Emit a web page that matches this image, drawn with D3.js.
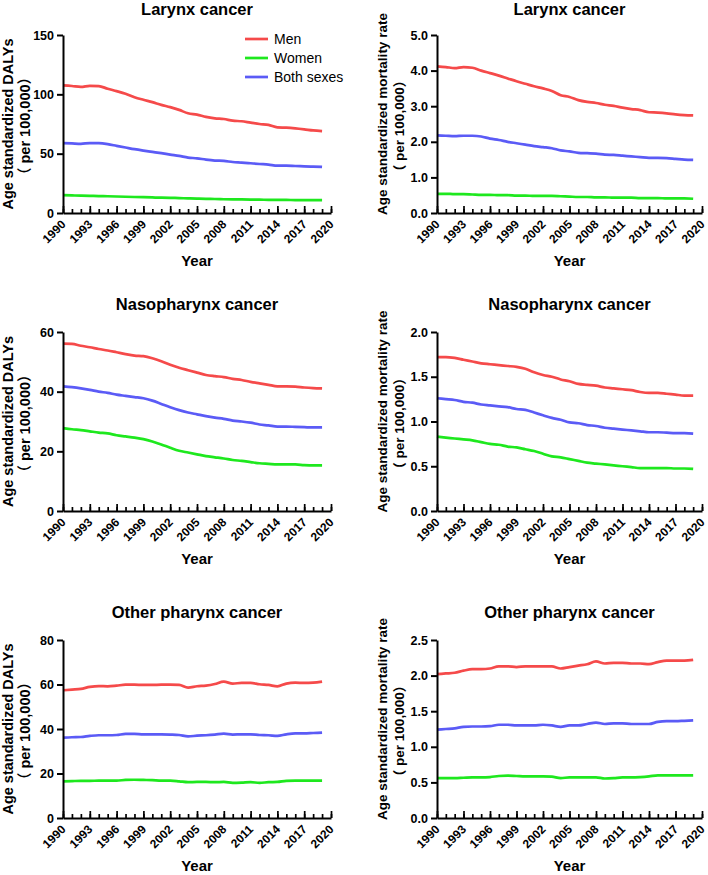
<!DOCTYPE html>
<html>
<head>
<meta charset="utf-8">
<script src="https://cdn.jsdelivr.net/npm/d3@7"></script>
<style>
  html, body { margin: 0; padding: 0; background: #fff; }
  svg { display: block; }
  text { font-family: "Liberation Sans", Arial, "Noto Sans CJK SC", sans-serif; fill: #000; }
</style>
</head>
<body>
<svg id="chart" width="708" height="875"></svg>
<script>
// ---------------- DATA ----------------
const years = [1990,1991,1992,1993,1994,1995,1996,1997,1998,1999,
               2000,2001,2002,2003,2004,2005,2006,2007,2008,2009,
               2010,2011,2012,2013,2014,2015,2016,2017,2018,2019];
const xTickLabels = ["1990","1993","1996","1999","2002","2005","2008","2011","2014","2017","2020"];
const seriesNames = ["Men", "Women", "Both sexes"];
const seriesColors = ["#f54a4a", "#1ee81e", "#5b5bf6"];

const titles = ["Larynx cancer", "Larynx cancer", "Nasopharynx cancer", "Nasopharynx cancer", "Other pharynx cancer", "Other pharynx cancer"];
const yLabels = ["Age standardized DALYs", "Age standardized mortality rate"];
const yLabel2 = "（ per 100,000）";

const yTicksDalysLarynx = [0, 50, 100, 150];
const yTicksMortLarynx = [0, 1, 2, 3, 4, 5];
const yTicksDalysNaso = [0, 20, 40, 60];
const yTicksMortNaso = [0, 0.5, 1.0, 1.5, 2.0];
const yTicksDalysOther = [0, 20, 40, 60, 80];
const yTicksMortOther = [0, 0.5, 1.0, 1.5, 2.0, 2.5];

// Larynx DALYs
const larynxDalysMen   = [107.5,107,106.3,107.2,107,104.7,102.7,100.5,97.6,95.4, 93.4,91.1,89.2,86.9,84.0,82.9,81.0,79.8,79.2,77.8, 77.3,76.1,75.0,74.2,72.2,71.9,71.3,70.5,69.6,69.0];
const larynxDalysWomen = [15.0,14.8,14.6,14.5,14.3,14.1,13.9,13.7,13.5,13.3, 13.1,12.9,12.8,12.6,12.3,12.1,11.9,11.8,11.6,11.5, 11.4,11.3,11.2,11.1,11.0,11.0,10.9,10.9,10.8,10.8];
const larynxDalysBoth  = [58.9,58.6,58.3,58.9,58.8,58.0,56.6,55.2,53.8,52.6, 51.5,50.4,49.2,48.1,46.7,46.1,45.0,44.2,43.9,43.0, 42.5,41.9,41.3,40.8,39.9,39.9,39.6,39.3,39.1,38.8];
// Larynx mortality
const larynxMortMen   = [4.12,4.10,4.07,4.10,4.08,4.00,3.93,3.86,3.78,3.70, 3.63,3.56,3.50,3.43,3.31,3.26,3.17,3.12,3.09,3.04, 3.01,2.96,2.92,2.89,2.83,2.82,2.80,2.77,2.75,2.74];
const larynxMortWomen = [0.54,0.54,0.53,0.53,0.52,0.51,0.51,0.50,0.50,0.49, 0.49,0.48,0.48,0.48,0.47,0.46,0.45,0.45,0.44,0.44, 0.43,0.43,0.43,0.42,0.42,0.42,0.41,0.41,0.41,0.40];
const larynxMortBoth  = [2.18,2.17,2.16,2.17,2.17,2.15,2.09,2.05,2.00,1.96, 1.92,1.88,1.85,1.82,1.76,1.73,1.69,1.68,1.67,1.64, 1.63,1.61,1.59,1.57,1.55,1.55,1.54,1.52,1.50,1.49];
// Nasopharynx DALYs
const nasoDalysMen   = [56.1,56.0,55.4,54.9,54.3,53.8,53.2,52.6,52.1,51.9, 51.2,50.2,49.0,48.0,47.2,46.4,45.6,45.2,44.9,44.3, 43.9,43.3,42.8,42.3,41.8,41.8,41.7,41.4,41.2,41.1];
const nasoDalysWomen = [27.8,27.4,27.1,26.7,26.3,26.0,25.4,25.0,24.6,24.1, 23.3,22.3,21.2,20.2,19.6,19.0,18.4,18.0,17.6,17.1, 16.8,16.4,16.0,15.8,15.6,15.6,15.6,15.4,15.3,15.3];
const nasoDalysBoth  = [41.8,41.5,41.1,40.6,40.0,39.6,39.0,38.6,38.2,37.8, 37.0,35.9,34.8,33.8,33.0,32.4,31.8,31.3,30.9,30.3, 30.0,29.6,29.0,28.7,28.3,28.3,28.2,28.1,28.0,28.0];
// Nasopharynx mortality
const nasoMortMen   = [1.72,1.72,1.71,1.69,1.67,1.65,1.64,1.63,1.62,1.61, 1.59,1.55,1.52,1.50,1.47,1.45,1.42,1.41,1.40,1.38, 1.37,1.36,1.35,1.33,1.32,1.32,1.31,1.30,1.29,1.29];
const nasoMortWomen = [0.83,0.82,0.81,0.80,0.79,0.77,0.75,0.74,0.72,0.71, 0.69,0.67,0.64,0.61,0.60,0.58,0.56,0.54,0.53,0.52, 0.51,0.50,0.49,0.48,0.48,0.48,0.48,0.475,0.475,0.47];
const nasoMortBoth  = [1.26,1.25,1.24,1.22,1.21,1.19,1.18,1.17,1.16,1.14, 1.13,1.10,1.07,1.04,1.02,0.99,0.98,0.96,0.95,0.93, 0.92,0.91,0.90,0.89,0.88,0.88,0.875,0.87,0.87,0.865];
// Other pharynx DALYs
const otherDalysMen   = [57.4,57.7,58.0,58.9,59.3,59.2,59.5,59.9,59.9,59.8, 59.8,59.9,59.9,59.8,58.6,59.2,59.5,60.2,61.3,60.4, 60.7,60.7,60.1,59.8,59.2,60.4,60.8,60.7,60.8,61.3];
const otherDalysWomen = [16.5,16.6,16.7,16.7,16.8,16.8,16.8,17.1,17.2,17.1, 17.0,16.8,16.8,16.5,16.1,16.2,16.2,16.1,16.2,15.8, 15.9,16.1,15.8,16.1,16.2,16.7,16.8,16.8,16.8,16.8];
const otherDalysBoth  = [36.1,36.3,36.4,36.9,37.2,37.2,37.3,37.8,37.8,37.6, 37.6,37.6,37.5,37.3,36.7,37.0,37.2,37.5,37.9,37.5, 37.6,37.6,37.3,37.2,36.9,37.6,38.0,38.0,38.2,38.4];
// Other pharynx mortality
const otherMortMen   = [2.02,2.03,2.04,2.07,2.09,2.09,2.10,2.13,2.13,2.12, 2.13,2.13,2.13,2.13,2.10,2.12,2.14,2.16,2.20,2.17, 2.18,2.18,2.17,2.17,2.16,2.19,2.21,2.21,2.21,2.22];
const otherMortWomen = [0.56,0.56,0.56,0.565,0.57,0.57,0.575,0.59,0.595,0.59, 0.585,0.585,0.585,0.58,0.56,0.57,0.57,0.57,0.57,0.555, 0.56,0.57,0.57,0.575,0.585,0.60,0.60,0.60,0.60,0.60];
const otherMortBoth  = [1.24,1.25,1.26,1.28,1.285,1.285,1.29,1.31,1.31,1.30, 1.30,1.30,1.31,1.30,1.28,1.30,1.30,1.32,1.34,1.32, 1.33,1.33,1.32,1.32,1.32,1.35,1.36,1.36,1.365,1.37];

// ---------------- LAYOUT ----------------
const cols = [{x0: 63, x1: 331}, {x0: 437, x1: 702}];
const rows = [{y0: 35, y1: 213}, {y0: 332, y1: 511}, {y0: 640, y1: 818}];
const FONT = '"Liberation Sans", Arial, "Noto Sans CJK SC", sans-serif';

const panels = [
  {col: 0, row: 0, title: titles[0], yLabel: yLabels[0], ticks: yTicksDalysLarynx, fmt: d3.format("d"),   series: [larynxDalysMen, larynxDalysWomen, larynxDalysBoth], legend: true},
  {col: 1, row: 0, title: titles[1], yLabel: yLabels[1], ticks: yTicksMortLarynx,  fmt: d3.format(".1f"), series: [larynxMortMen, larynxMortWomen, larynxMortBoth]},
  {col: 0, row: 1, title: titles[2], yLabel: yLabels[0], ticks: yTicksDalysNaso,   fmt: d3.format("d"),   series: [nasoDalysMen, nasoDalysWomen, nasoDalysBoth]},
  {col: 1, row: 1, title: titles[3], yLabel: yLabels[1], ticks: yTicksMortNaso,    fmt: d3.format(".1f"), series: [nasoMortMen, nasoMortWomen, nasoMortBoth]},
  {col: 0, row: 2, title: titles[4], yLabel: yLabels[0], ticks: yTicksDalysOther,  fmt: d3.format("d"),   series: [otherDalysMen, otherDalysWomen, otherDalysBoth]},
  {col: 1, row: 2, title: titles[5], yLabel: yLabels[1], ticks: yTicksMortOther,   fmt: d3.format(".1f"), series: [otherMortMen, otherMortWomen, otherMortBoth]}
];

const svg = d3.select("#chart");

panels.forEach(p => {
  const c = cols[p.col], r = rows[p.row];
  const g = svg.append("g");
  const x = d3.scaleLinear().domain([1990, 2020]).range([c.x0, c.x1]);
  const y = d3.scaleLinear().domain([0, d3.max(p.ticks)]).range([r.y1, r.y0]);

  // lines
  const line = d3.line().x((d, i) => x(years[i])).y(d => y(d)).curve(d3.curveMonotoneX);
  p.series.forEach((s, si) => {
    g.append("path").datum(s)
      .attr("d", line)
      .attr("fill", "none")
      .attr("stroke", seriesColors[si])
      .attr("stroke-width", 2.7)
      .attr("stroke-linejoin", "round");
  });

  // y axis
  const yAxis = d3.axisLeft(y).tickValues(p.ticks).tickFormat(p.fmt).tickSize(6).tickPadding(3).tickSizeOuter(0);
  const ya = g.append("g").attr("transform", `translate(${c.x0},0)`).call(yAxis);
  ya.select(".domain").attr("stroke", "#000").attr("stroke-width", 2);
  ya.selectAll(".tick line").attr("stroke", "#000").attr("stroke-width", 2);
  ya.selectAll(".tick text").attr("font-size", 12.5).attr("font-weight", "bold")
    .attr("font-family", FONT).attr("fill", "#000");

  // x axis: minor ticks every year (inward), major ticks every 3 years
  const minorYears = d3.range(1990, 2021);
  const xMinor = d3.axisBottom(x).tickValues(minorYears).tickSize(-4).tickFormat("").tickSizeOuter(0);
  const xm = g.append("g").attr("transform", `translate(0,${r.y1})`).call(xMinor);
  xm.select(".domain").attr("stroke", "#000").attr("stroke-width", 2);
  xm.selectAll(".tick line").attr("stroke", "#000").attr("stroke-width", 1.7);

  const majorYears = xTickLabels.map(Number);
  const xMajor = d3.axisBottom(x).tickValues(majorYears).tickSize(-7).tickFormat((d, i) => xTickLabels[i]).tickSizeOuter(0);
  const xM = g.append("g").attr("transform", `translate(0,${r.y1})`).call(xMajor);
  xM.select(".domain").remove();
  xM.selectAll(".tick line").attr("stroke", "#000").attr("stroke-width", 1.7);
  xM.selectAll(".tick text")
    .attr("font-size", 12).attr("font-weight", "bold")
    .attr("font-family", FONT).attr("fill", "#000")
    .attr("text-anchor", "end")
    .attr("dy", null).attr("y", null)
    .attr("transform", "translate(3,12) rotate(-45)");

  // title
  g.append("text").attr("x", (c.x0 + c.x1) / 2).attr("y", Math.max(r.y0 - 22, 15))
    .attr("text-anchor", "middle").attr("font-size", 16.5).attr("font-weight", "bold").text(p.title);

  // x label
  g.append("text").attr("x", (c.x0 + c.x1) / 2).attr("y", r.y1 + 53)
    .attr("text-anchor", "middle").attr("font-size", 15).attr("font-weight", "bold").text("Year");

  // y labels
  const cy = (r.y0 + r.y1) / 2;
  const fs = p.col === 0 ? 14.5 : 13.5;
  const cy1 = p.col === 0 ? cy : cy - 10;
  g.append("text").attr("transform", `translate(${c.x0 - 50},${cy1}) rotate(-90)`)
    .attr("text-anchor", "middle").attr("font-size", fs).attr("font-weight", "bold").text(p.yLabel);
  g.append("text").attr("transform", `translate(${c.x0 - 33},${cy + 2}) rotate(-90)`)
    .attr("text-anchor", "middle").attr("font-size", fs).attr("font-weight", "bold").text(yLabel2);

  // legend
  if (p.legend) {
    const ly = [39, 58, 77];
    seriesNames.forEach((n, i) => {
      g.append("line").attr("x1", 245).attr("x2", 268).attr("y1", ly[i]).attr("y2", ly[i])
        .attr("stroke", seriesColors[i]).attr("stroke-width", 2.7);
      g.append("text").attr("x", 274).attr("y", ly[i]).attr("dy", "0.35em")
        .attr("font-size", 14).text(n);
    });
  }
});
</script>
</body>
</html>
